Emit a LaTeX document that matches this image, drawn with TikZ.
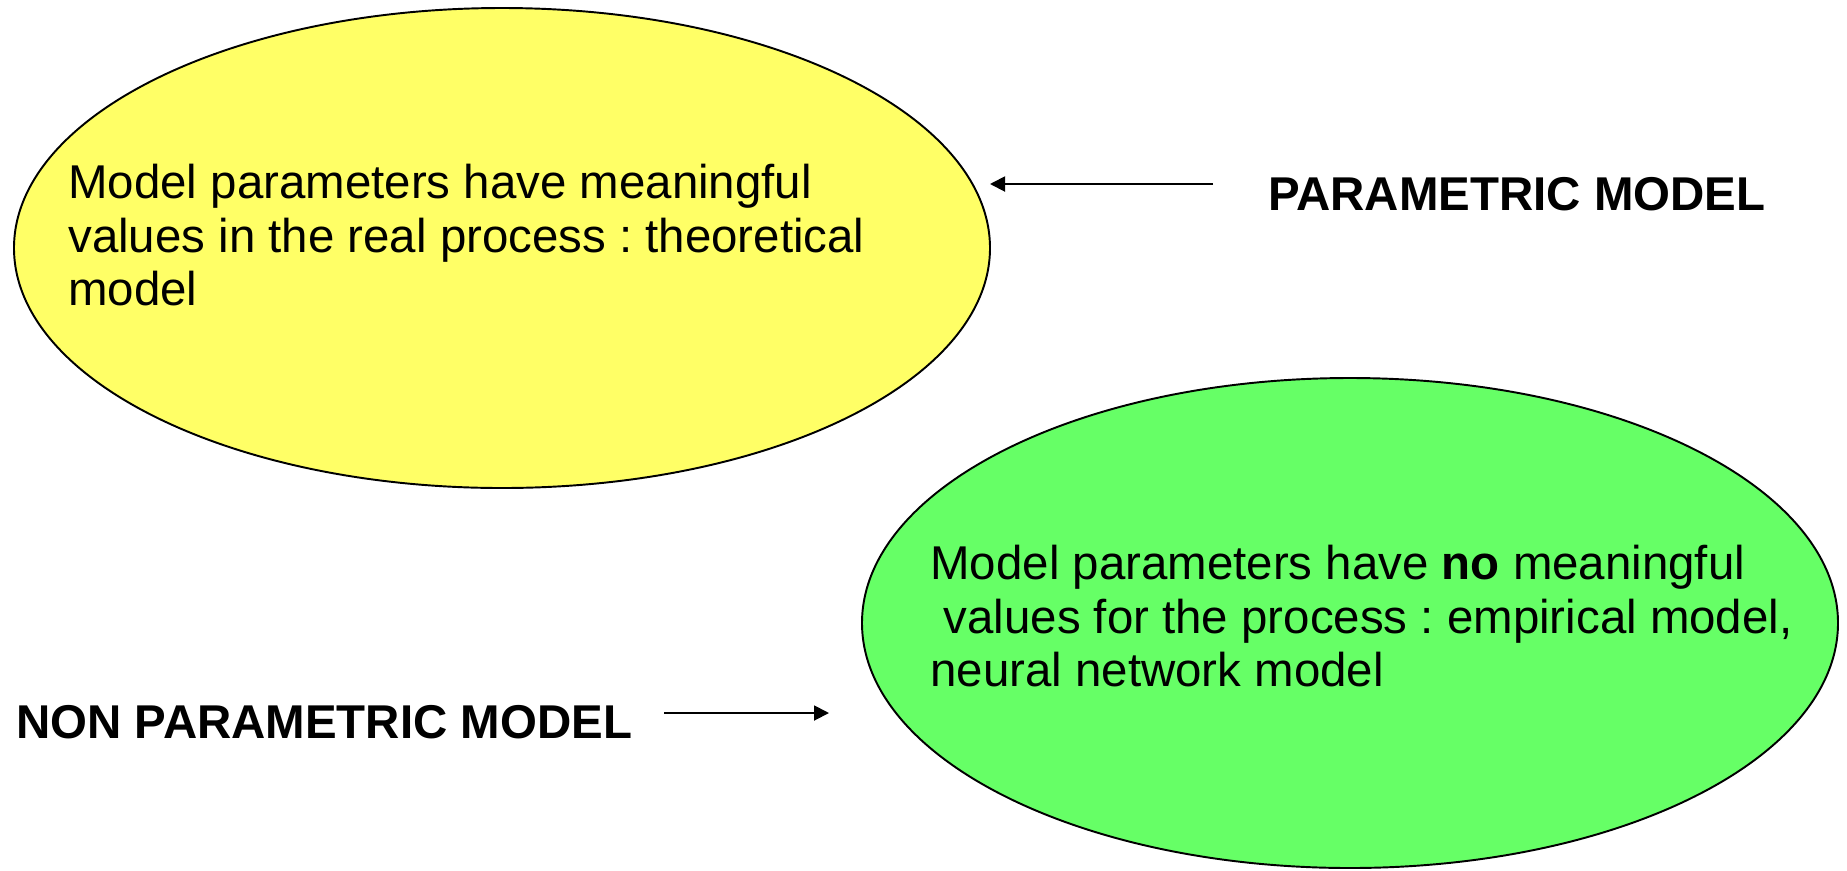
\documentclass[tikz,border=0pt]{standalone}
\usepackage{fontspec}
\setmainfont{Liberation Sans}
\usetikzlibrary{arrows.meta}
\frenchspacing
\definecolor{ovalyellow}{HTML}{FFFF66}
\definecolor{ovalgreen}{HTML}{66FF66}
\tikzset{
  oval/.style={draw=black,line width=1.1pt},
  bodytext/.style={inner sep=0pt,align=left,anchor=north west,font=\fontsize{27}{30.5}\selectfont},
  kindlabel/.style={inner sep=0pt,font=\fontsize{27}{30.5}\selectfont\bfseries},
  arr/.style={line width=1.1pt,-{Triangle[length=0.3cm,width=0.3cm]}}
}
\begin{document}
\begin{tikzpicture}[x=0.02cm,y=-0.02cm]
\useasboundingbox (0,0) rectangle (1847,870);
% the two ovals
\filldraw[oval,fill=ovalyellow] (502,248) ellipse (488 and 240);
\filldraw[oval,fill=ovalgreen] (1350,623) ellipse (488 and 245);
% texts in the ovals
\node[bodytext] (partext) at (68,164) {Model parameters have meaningful\\values in the real process : theoretical\\model};
\node[bodytext] (nonpartext) at (930,545) {Model parameters have \textbf{no} meaningful\\\hspace*{0.28em}values for the process : empirical model,\\neural network model};
% labels and arrows
\node[kindlabel,anchor=west] (pm) at (1268,194) {PARAMETRIC MODEL};
\node[kindlabel,anchor=west] (npm) at (16,722) {NON PARAMETRIC MODEL};
\coordinate (tipA) at (990,184);
\coordinate (tipB) at (829,713);
\draw[arr] ([shift={(-55,-10)}]pm.west) -- (tipA);
\draw[arr] ([shift={(32,-9)}]npm.east) -- (tipB);
\end{tikzpicture}
\end{document}
